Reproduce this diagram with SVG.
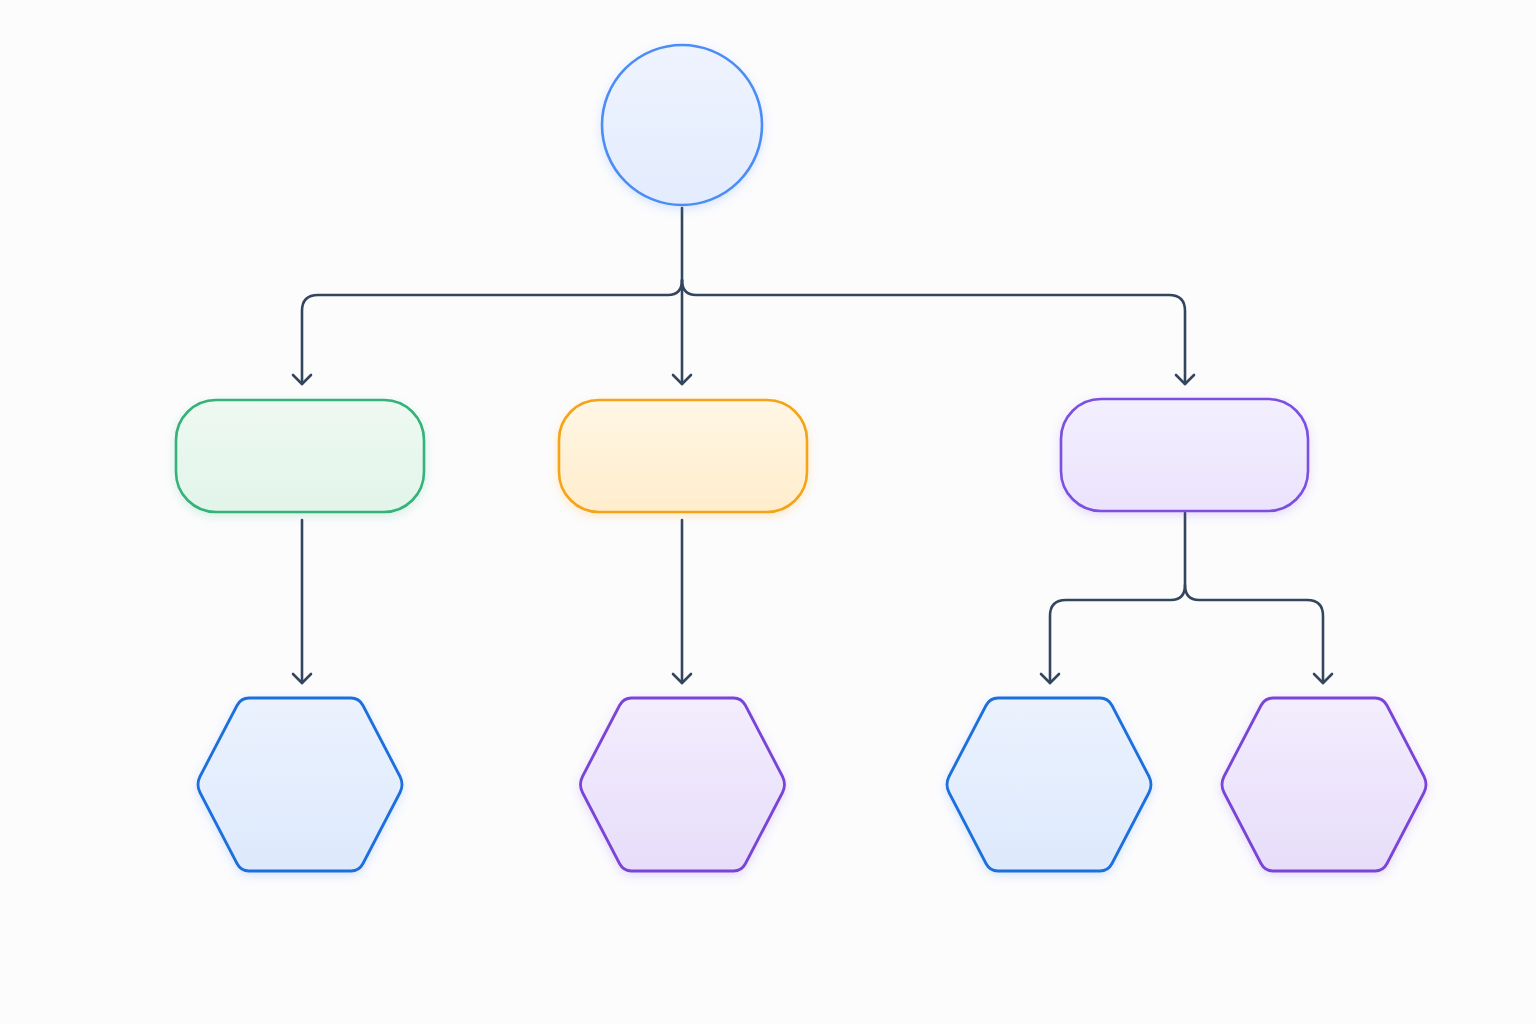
<svg xmlns="http://www.w3.org/2000/svg" width="1536" height="1024" viewBox="0 0 1536 1024">
  <style>
    .conn { fill: none; stroke: #34455f; stroke-width: 2.6; stroke-linecap: round; stroke-linejoin: round; }
    .node { stroke-width: 2.6; }
    .hex { stroke-width: 2.8; }
  </style>
  <defs>
    <marker id="arrow" viewBox="-12 -12 24 24" markerWidth="24" markerHeight="24" markerUnits="userSpaceOnUse" orient="auto">
      <path d="M-9,-9 L0,0 L-9,9" fill="none" stroke="#34455f" stroke-width="2.6" stroke-linecap="round" stroke-linejoin="round"/>
    </marker>
    <path id="hexShape" d="M-100,-8 L-63,-79 Q-59,-86.5 -51,-86.5 L51,-86.5 Q59,-86.5 63,-79 L100,-8 Q104,0 100,8 L63,79 Q59,86.5 51,86.5 L-51,86.5 Q-59,86.5 -63,79 L-100,8 Q-104,0 -100,-8 Z"/>
    <linearGradient id="gBlue" x1="0" y1="0" x2="0" y2="1"><stop offset="0" stop-color="#eef3fe"/><stop offset="1" stop-color="#e3ecfd"/></linearGradient>
    <linearGradient id="gGreen" x1="0" y1="0" x2="0" y2="1"><stop offset="0" stop-color="#eef9f2"/><stop offset="1" stop-color="#e2f5ea"/></linearGradient>
    <linearGradient id="gOrange" x1="0" y1="0" x2="0" y2="1"><stop offset="0" stop-color="#fff6e4"/><stop offset="1" stop-color="#ffedcc"/></linearGradient>
    <linearGradient id="gPurple" x1="0" y1="0" x2="0" y2="1"><stop offset="0" stop-color="#f3effe"/><stop offset="1" stop-color="#ebe3fc"/></linearGradient>
    <linearGradient id="gHexBlue" x1="0" y1="0" x2="0" y2="1"><stop offset="0" stop-color="#ebf2fe"/><stop offset="1" stop-color="#dde9fc"/></linearGradient>
    <linearGradient id="gHexPurple" x1="0" y1="0" x2="0" y2="1"><stop offset="0" stop-color="#f3edfd"/><stop offset="1" stop-color="#e7ddfa"/></linearGradient>
    <filter id="glowBlue" x="-20%" y="-20%" width="140%" height="140%"><feDropShadow dx="0" dy="3" stdDeviation="5" flood-color="#4b8df5" flood-opacity="0.22"/></filter>
    <filter id="glowGreen" x="-20%" y="-20%" width="140%" height="140%"><feDropShadow dx="0" dy="3" stdDeviation="5" flood-color="#34b27a" flood-opacity="0.2"/></filter>
    <filter id="glowOrange" x="-20%" y="-20%" width="140%" height="140%"><feDropShadow dx="0" dy="3" stdDeviation="5" flood-color="#f5a51c" flood-opacity="0.22"/></filter>
    <filter id="glowPurple" x="-20%" y="-20%" width="140%" height="140%"><feDropShadow dx="0" dy="3" stdDeviation="5" flood-color="#7b4fe0" flood-opacity="0.2"/></filter>
  </defs>

  <rect x="0" y="0" width="1536" height="1024" fill="#fcfcfd"/>

  <g id="connectors">
    <path class="conn" d="M682,208 L682,384" marker-end="url(#arrow)"/>
    <path class="conn" d="M682,280 Q682,295 668,295 L318,295 Q302,295 302,311 L302,384" marker-end="url(#arrow)"/>
    <path class="conn" d="M682,280 Q682,295 696,295 L1169,295 Q1185,295 1185,311 L1185,384" marker-end="url(#arrow)"/>
    <path class="conn" d="M302,520 L302,683" marker-end="url(#arrow)"/>
    <path class="conn" d="M682,520 L682,683" marker-end="url(#arrow)"/>
    <path class="conn" d="M1185,513 L1185,585 Q1185,600 1171,600 L1066,600 Q1050,600 1050,616 L1050,683" marker-end="url(#arrow)"/>
    <path class="conn" d="M1185,585 Q1185,600 1199,600 L1307,600 Q1323,600 1323,616 L1323,683" marker-end="url(#arrow)"/>
  </g>

  <g id="root">
    <circle class="node" cx="682" cy="125" r="80" fill="url(#gBlue)" stroke="#4b8df5" filter="url(#glowBlue)"/>
  </g>

  <g id="rect-green">
    <rect class="node" x="176" y="400" width="248" height="112" rx="40" fill="url(#gGreen)" stroke="#34b27a" filter="url(#glowGreen)"/>
  </g>
  <g id="rect-orange">
    <rect class="node" x="559" y="400" width="248" height="112" rx="40" fill="url(#gOrange)" stroke="#f4a419" filter="url(#glowOrange)"/>
  </g>
  <g id="rect-purple">
    <rect class="node" x="1061" y="399" width="247" height="112" rx="40" fill="url(#gPurple)" stroke="#7b4fe0" filter="url(#glowPurple)"/>
  </g>

  <g id="hex-1">
    <use href="#hexShape" class="hex" transform="translate(300,784.5)" fill="url(#gHexBlue)" stroke="#1f6fdc" filter="url(#glowBlue)"/>
  </g>
  <g id="hex-2">
    <use href="#hexShape" class="hex" transform="translate(682.5,784.5)" fill="url(#gHexPurple)" stroke="#7a45d6" filter="url(#glowPurple)"/>
  </g>
  <g id="hex-3">
    <use href="#hexShape" class="hex" transform="translate(1049,784.5)" fill="url(#gHexBlue)" stroke="#1f6fdc" filter="url(#glowBlue)"/>
  </g>
  <g id="hex-4">
    <use href="#hexShape" class="hex" transform="translate(1324,784.5)" fill="url(#gHexPurple)" stroke="#7a45d6" filter="url(#glowPurple)"/>
  </g>
</svg>
